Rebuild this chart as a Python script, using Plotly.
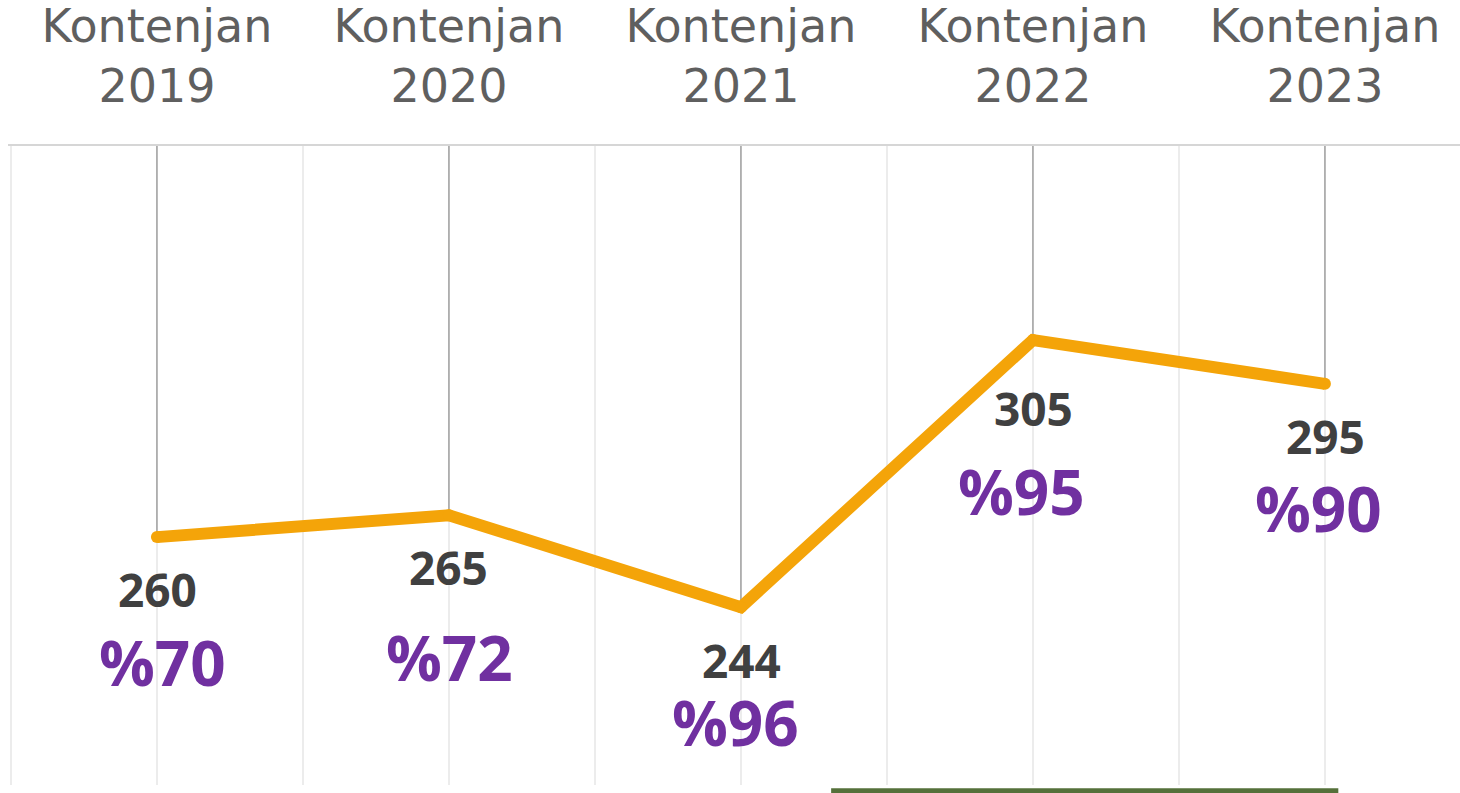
import plotly.graph_objects as go

# ---- data ----
years = ["2019", "2020", "2021", "2022", "2023"]
category_prefix = "Kontenjan"
kontenjan = [260, 265, 244, 305, 295]
percent = [70, 72, 96, 95, 90]

# ---- layout / style config ----
Y_RANGE = [203.4, 349.3]
X_RANGE = [-0.51, 4.4626]
num_offsets = [(1, -52), (0, -52), (1, -53), (1, -68), (1, -52)]   # (xshift, yshift) px
pct_offsets = [(6, -125), (1, -142), (-5, -115), (-11, -151), (-6, -124)]

x_idx = list(range(len(years)))
tick_vals = []
tick_text = []
for i, yr in enumerate(years):
    tick_vals += [i - 0.5, i]
    tick_text += ["", f"{category_prefix}<br>{yr}"]

fig = go.Figure()

# dark drop lines from top of plot to each point
fig.add_trace(go.Scatter(
    x=x_idx, y=kontenjan, mode="markers",
    marker=dict(size=1, color="rgba(0,0,0,0)"),
    error_y=dict(type="data", symmetric=False,
                 array=[Y_RANGE[1] - v for v in kontenjan],
                 arrayminus=[0] * len(kontenjan),
                 color="#a6a6a6", thickness=1.6, width=0),
    hoverinfo="skip", showlegend=False,
))

# main orange line
fig.add_trace(go.Scatter(
    x=x_idx, y=kontenjan, mode="lines+markers",
    line=dict(color="#f4a409", width=12),
    marker=dict(color="#f4a409", size=12),
    showlegend=False,
))

annotations = []
for i, (v, p) in enumerate(zip(kontenjan, percent)):
    annotations.append(dict(
        x=i, y=v, xref="x", yref="y", text=str(v), showarrow=False,
        xshift=num_offsets[i][0], yshift=num_offsets[i][1],
        font=dict(family="Open Sans", size=46, color="#404040", weight=700),
    ))
    annotations.append(dict(
        x=i, y=v, xref="x", yref="y", text=f"%{p}", showarrow=False,
        xshift=pct_offsets[i][0], yshift=pct_offsets[i][1],
        font=dict(family="Open Sans", size=62, color="#7030a0", weight=700),
    ))

fig.update_layout(
    width=1460, height=793,
    margin=dict(l=8, r=0, t=146, b=8),
    paper_bgcolor="white", plot_bgcolor="white",
    annotations=annotations,
    shapes=[dict(
        type="rect", xref="paper", yref="paper",
        x0=0.5669, x1=0.9162, y0=-0.005, y1=-0.08,
        fillcolor="#55703a", line=dict(width=0), layer="above",
    )],
    xaxis=dict(
        range=X_RANGE, side="top", automargin=False,
        tickmode="array", tickvals=tick_vals, ticktext=tick_text,
        showgrid=True, gridcolor="#ececec", gridwidth=1.6,
        showline=True, linecolor="#d6d6d6", linewidth=2,
        ticks="", ticklabelstandoff=24,
        tickfont=dict(family="DejaVu Sans", size=46, color="#5f5f5f"),
        zeroline=False, fixedrange=True,
    ),
    yaxis=dict(
        range=Y_RANGE, showgrid=False, zeroline=False, automargin=False,
        showticklabels=False, showline=False, ticks="",
    ),
)

fig.write_html("out.html")
